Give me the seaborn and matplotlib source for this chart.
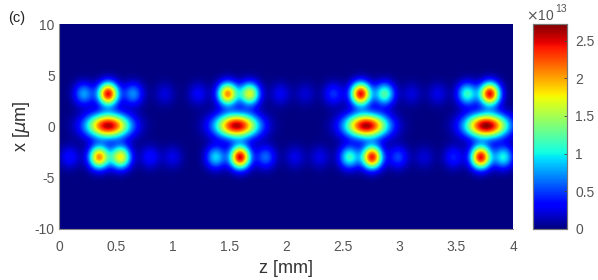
import numpy as np
import matplotlib.pyplot as plt
import seaborn as sns

plt.rcParams['font.family'] = ['Liberation Sans', 'DejaVu Sans']
gray = '#555555'

# lobes: z [mm], height [1e13]
top_z = [0.215, 0.43, 0.65, 0.93, 1.225, 1.485, 1.68, 1.95, 2.17, 2.42, 2.66, 2.87, 3.11, 3.34, 3.60, 3.80]
top_amp = [0.75, 2.45, 0.70, 0.22, 0.30, 2.05, 1.65, 0.28, 0.20, 0.45, 2.45, 1.20, 0.22, 0.25, 1.10, 2.45]
mid_z = [0.43, 1.565, 2.71, 3.77]
mid_amp = [2.60, 2.60, 2.62, 2.70]
bot_z = [0.09, 0.35, 0.54, 0.80, 1.00, 1.38, 1.595, 1.82, 2.08, 2.30, 2.56, 2.76, 2.99, 3.22, 3.48, 3.72, 3.92]
bot_amp = [0.35, 2.05, 1.75, 0.35, 0.25, 0.90, 2.50, 0.60, 0.25, 0.25, 1.10, 2.40, 0.50, 0.20, 0.40, 2.45, 1.00]
rows = [(3.2, top_z, top_amp, 0.062, 0.78), (0.08, mid_z, mid_amp, 0.13, 0.82), (-3.0, bot_z, bot_amp, 0.062, 0.78)]

z = np.linspace(0, 4, 454)
x = np.linspace(10, -10, 205)
zz, xx = np.meshgrid(z, x)
field = np.zeros_like(zz)
for x0, zs, amps, sz, sx in rows:
    for z0, a in zip(zs, amps):
        field += a * np.exp(-(zz - z0)**2 / (2 * sz**2) - (xx - x0)**2 / (2 * sx**2))

fig = plt.figure(figsize=(5.98, 2.80), dpi=100)
ax = fig.add_axes([59 / 598, 1 - 229 / 280, 454 / 598, 205 / 280])
cax = fig.add_axes([533 / 598, 1 - 229 / 280, 34 / 598, 205 / 280])
sns.heatmap(field, ax=ax, cbar_ax=cax, cmap='jet', vmin=0, vmax=2.72, xticklabels=False, yticklabels=False)

ax.set_xticks(np.linspace(0, 454, 9))
ax.set_xticklabels(['0', '0.5', '1', '1.5', '2', '2.5', '3', '3.5', '4'])
ax.set_yticks(np.linspace(0, 205, 5))
ax.set_yticklabels(['10', '5', '0', '-5', '-10'], rotation=0)
ax.tick_params(axis='y', length=0, labelsize=10, labelcolor=gray, pad=3)
ax.tick_params(axis='x', length=0, labelsize=10, labelcolor=gray, pad=8)
ax.set_xlabel('z [mm]', fontsize=13, color='#333333', labelpad=4)
ax.set_ylabel('x [$\\mu$m]', fontsize=13, color='#333333', labelpad=2)
for side in ['left', 'bottom']:
    ax.spines[side].set_visible(True)
    ax.spines[side].set_color('#888888')
    ax.spines[side].set_linewidth(0.8)

cax.set_yticks([0, 0.5, 1, 1.5, 2, 2.5])
cax.set_yticklabels(['0', '0.5', '1', '1.5', '2', '2.5'])
cax.tick_params(length=2, width=0.6, direction='in', color='#444444', labelsize=10, labelcolor=gray, pad=6)
for s in cax.spines.values():
    s.set_visible(True)
    s.set_color('#777777')
    s.set_linewidth(0.8)

fig.text(526 / 598, 1 - 16 / 280, '$\\times$10', fontsize=10, color=gray, ha='left', va='center')
fig.text(555 / 598, 1 - 9 / 280, '13', fontsize=7.5, color=gray, ha='left', va='center')
fig.text(8 / 598, 1 - 18 / 280, '(c)', fontsize=10.5, color='#222222', ha='left', va='center')

fig.savefig('out.png', dpi=100)
